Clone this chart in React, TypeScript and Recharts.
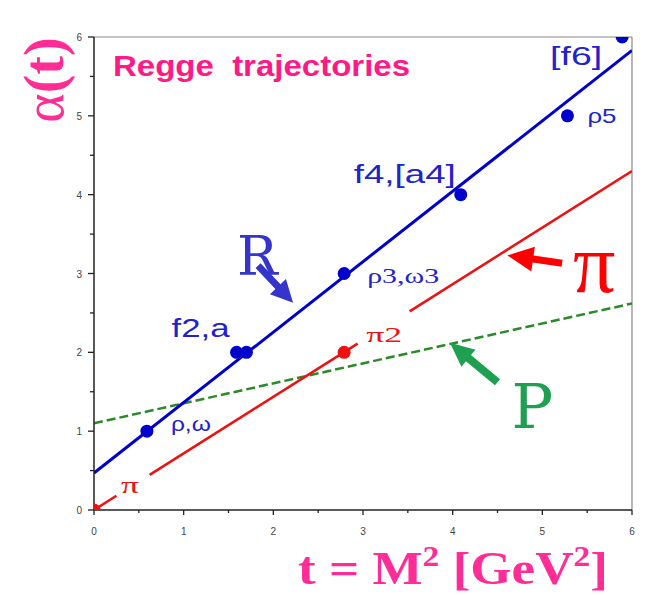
import { ComposedChart, Line, Scatter, XAxis, YAxis, ReferenceLine } from 'recharts';

// trajectory lines (end points)
const rhoLine = [
  { t: 0, a: 0.47 },
  { t: 6, a: 5.83 },
];
// pion line has gaps where its labels sit
const piLine = [
  { t: 0, a: 0 },
  { t: 0.25, a: 0.18 },
  { t: 0.25, a: null },
  { t: 0.62, a: 0.445 },
  { t: 2.94, a: 2.11 },
  { t: 2.94, a: null },
  { t: 3.52, a: 2.52 },
  { t: 6, a: 4.3 },
];
const pomeronLine = [
  { t: 0, a: 1.1 },
  { t: 6, a: 2.62 },
];

// resonances
const rhoStates = [
  { t: 0.59, a: 1, label: 'ρ,ω' },
  { t: 1.59, a: 2, label: 'f2,a' },
  { t: 1.7, a: 2, label: '' },
  { t: 2.79, a: 3, label: 'ρ3,ω3' },
  { t: 4.09, a: 4, label: 'f4,[a4]' },
  { t: 5.28, a: 5, label: 'ρ5' },
  { t: 5.89, a: 6, label: '[f6]' },
];
const piStates = [
  { t: 0, a: 0, label: 'π' },
  { t: 2.79, a: 2, label: 'π2' },
];

const xTicks = [0, 0.5, 1, 1.5, 2, 2.5, 3, 3.5, 4, 4.5, 5, 5.5, 6];
const yTicks = [0, 0.5, 1, 1.5, 2, 2.5, 3, 3.5, 4, 4.5, 5, 5.5, 6];

const PINK = '#ff2d95';
const BLUE = '#0000cc';
const RED = '#ee1111';
const GREEN = '#2a8a2a';

const SANS = '"Liberation Sans", Arial, sans-serif';
const SERIF = '"Liberation Serif", "Times New Roman", serif';
const SLAB = '"DejaVu Serif", "Courier New", serif';

// where each state label goes relative to its dot
const labelPlacement: Record<string, { dx: number; dy: number; size: number; len: number; font: string }> = {
  'ρ,ω': { dx: 24, dy: 0, size: 20, len: 40, font: SANS },
  'f2,a': { dx: -65, dy: -15, size: 25, len: 58, font: SANS },
  'ρ3,ω3': { dx: 23, dy: 9, size: 21, len: 72, font: SERIF },
  'f4,[a4]': { dx: -107, dy: -12, size: 25, len: 102, font: SANS },
  'ρ5': { dx: 20, dy: 7, size: 21, len: 29, font: SANS },
  '[f6]': { dx: -72, dy: 28, size: 26, len: 52, font: SANS },
  'π': { dx: 27, dy: -17, size: 24, len: 18, font: SERIF },
  'π2': { dx: 22, dy: -10, size: 21, len: 36, font: SERIF },
};

const XTick = ({ x, y, payload }: any) => {
  const major = Number.isInteger(payload.value);
  return (
    <g>
      <line x1={x} x2={x} y1={y} y2={y + (major ? 5 : 3)} stroke="#222" strokeWidth={1.3} />
      {major && (
        <text x={x} y={y + 25} textAnchor="middle" fontSize={10} fontFamily={SANS} fill="#444">
          {payload.value}
        </text>
      )}
    </g>
  );
};

const YTick = ({ x, y, payload }: any) => {
  const major = Number.isInteger(payload.value);
  return (
    <g>
      <line x1={x - (major ? 6 : 4)} x2={x} y1={y} y2={y} stroke="#222" strokeWidth={1.3} />
      {major && (
        <text x={x - 12} y={y + 4} textAnchor="end" fontSize={10} fontFamily={SANS} fill="#444">
          {payload.value}
        </text>
      )}
    </g>
  );
};

const stateDot = (color: string, r: number) => (props: any) => {
  const { cx, cy, payload } = props;
  const p = labelPlacement[payload.label];
  return (
    <g>
      <circle cx={cx} cy={cy} r={r} fill={color} />
      {p && (
        <text
          x={cx + p.dx}
          y={cy + p.dy}
          fontSize={p.size}
          fontFamily={p.font}
          fill={color === BLUE ? '#2222cc' : RED}
          textLength={p.len}
          lengthAdjust="spacingAndGlyphs"
        >
          {payload.label}
        </text>
      )}
    </g>
  );
};

// thick block arrow from (x1,y1) to the tip at (x2,y2), with a big letter near its tail
const arrowShape =
  (color: string, letter: string, font: string, size: number, tx: number, ty: number, head: number, headW: number, shaft: number, weight = 'normal') =>
  (props: any) => {
    const { x1, y1, x2, y2 } = props;
    const len = Math.hypot(x2 - x1, y2 - y1);
    const ux = (x2 - x1) / len;
    const uy = (y2 - y1) / len;
    const nx = -uy;
    const ny = ux;
    const bx = x2 - ux * head;
    const by = y2 - uy * head;
    const pts = [
      [x1 + (nx * shaft) / 2, y1 + (ny * shaft) / 2],
      [bx + (nx * shaft) / 2, by + (ny * shaft) / 2],
      [bx + (nx * headW) / 2, by + (ny * headW) / 2],
      [x2, y2],
      [bx - (nx * headW) / 2, by - (ny * headW) / 2],
      [bx - (nx * shaft) / 2, by - (ny * shaft) / 2],
      [x1 - (nx * shaft) / 2, y1 - (ny * shaft) / 2],
    ];
    return (
      <g>
        <polygon points={pts.map((q) => q.join(',')).join(' ')} fill={color} />
        <text x={x1 + tx} y={y1 + ty} fontSize={size} fontFamily={font} fontWeight={weight} fill={color}>
          {letter}
        </text>
      </g>
    );
  };

const YTitle = ({ viewBox }: any) => {
  const cx = viewBox.x - 10;
  const cy = viewBox.y + 43;
  return (
    <text
      x={cx}
      y={cy}
      transform={`rotate(-90 ${cx} ${cy})`}
      textAnchor="middle"
      dominantBaseline="central"
      fontSize={56}
      fontFamily={SERIF}
      fill={PINK}
    >
      α<tspan fontWeight="bold">(t)</tspan>
    </text>
  );
};

const XTitle = ({ viewBox }: any) => (
  <text
    x={viewBox.x + 204}
    y={viewBox.y + 74}
    fontSize={46}
    fontWeight="bold"
    fontFamily={SERIF}
    fill={PINK}
    textLength={310}
    lengthAdjust="spacingAndGlyphs"
    style={{ whiteSpace: 'pre' }}
  >
    t = M<tspan dy={-18} fontSize={29}>2</tspan>
    <tspan dy={18}> [GeV</tspan>
    <tspan dy={-18} fontSize={29}>2</tspan>
    <tspan dy={18}>]</tspan>
  </text>
);

export default function App() {
  return (
    <div style={{ position: 'absolute', left: 0, top: 0, width: 645, height: 595, background: '#fff' }}>
      <ComposedChart width={645} height={595} margin={{ top: 37, right: 13, bottom: 55, left: 54 }}>
        <XAxis
          dataKey="t"
          type="number"
          domain={[0, 6]}
          ticks={xTicks}
          interval={0}
          tickLine={false}
          tickSize={0}
          tickMargin={0}
          tick={<XTick />}
          height={30}
          axisLine={{ stroke: '#222', strokeWidth: 1.5 }}
          label={<XTitle />}
          allowDataOverflow
        />
        <YAxis
          type="number"
          domain={[0, 6]}
          ticks={yTicks}
          interval={0}
          tickLine={false}
          tickSize={0}
          tickMargin={0}
          tick={<YTick />}
          width={40}
          axisLine={{ stroke: '#222', strokeWidth: 1.5 }}
          label={<YTitle />}
          allowDataOverflow
        />
        <ReferenceLine y={6} stroke="#888" strokeWidth={1.2} />
        <ReferenceLine x={6} stroke="#888" strokeWidth={1.2} />

        <Line data={pomeronLine} dataKey="a" stroke={GREEN} strokeWidth={2.5} strokeDasharray="9 4" dot={false} isAnimationActive={false} />
        <Line data={piLine} dataKey="a" stroke={RED} strokeWidth={2.5} dot={false} connectNulls={false} isAnimationActive={false} />
        <Line data={rhoLine} dataKey="a" stroke={BLUE} strokeWidth={3} dot={false} isAnimationActive={false} />

        <Scatter data={piStates} dataKey="a" shape={stateDot(RED, 6.5)} isAnimationActive={false} />
        <Scatter data={rhoStates} dataKey="a" shape={stateDot(BLUE, 6.5)} isAnimationActive={false} />

        <ReferenceLine
          segment={[{ x: 1.83, y: 3.1 }, { x: 2.22, y: 2.63 }]}
          shape={arrowShape('#3535cc', 'R', SLAB, 54, -21, 9, 22, 22, 7, '300')}
        />
        <ReferenceLine
          segment={[{ x: 5.22, y: 3.13 }, { x: 4.61, y: 3.23 }]}
          shape={arrowShape('#ff0000', 'π', SERIF, 84, 11, 29, 26, 25, 7)}
        />
        <ReferenceLine
          segment={[{ x: 4.5, y: 1.62 }, { x: 3.97, y: 2.12 }]}
          shape={arrowShape('#1ea050', 'P', SLAB, 62, 14, 46, 24, 22, 8, '300')}
        />
      </ComposedChart>
      <svg width={645} height={595} style={{ position: 'absolute', left: 0, top: 0, pointerEvents: 'none' }}>
        <text
          x={113}
          y={76}
          fontSize={29}
          fontWeight="bold"
          fontFamily={SANS}
          fill="#ff1a85"
          textLength={297}
          lengthAdjust="spacingAndGlyphs"
          style={{ whiteSpace: 'pre' }}
        >
          Regge  trajectories
        </text>
      </svg>
    </div>
  );
}
